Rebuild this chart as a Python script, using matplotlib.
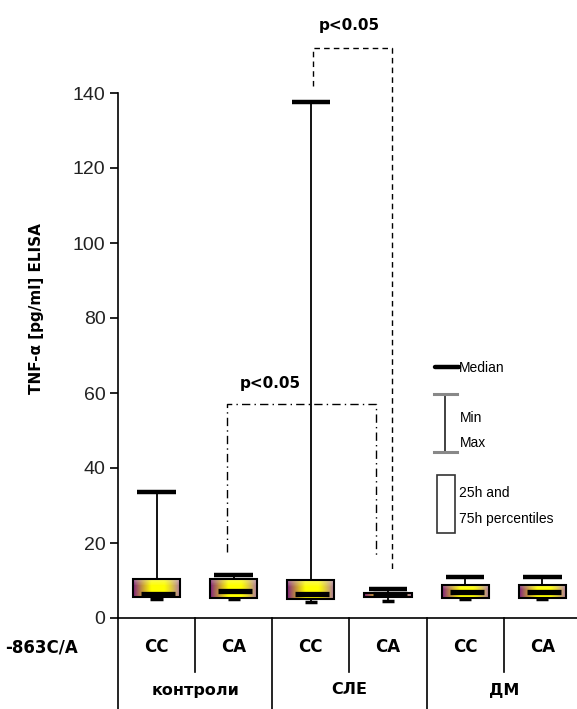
import numpy as np
import matplotlib

matplotlib.use("Agg")
import matplotlib.pyplot as plt
from matplotlib import font_manager
from matplotlib.lines import Line2D
from matplotlib.patches import Rectangle

# values (TNF-alpha, pg/ml)
genotypes = ["CC", "CA", "CC", "CA", "CC", "CA"]
groups = ["контроли", "СЛЕ", "ДМ"]
mins = [5.1, 5.0, 4.2, 4.6, 5.0, 5.0]
q1 = [5.6, 5.3, 5.1, 5.7, 5.3, 5.3]
medians = [6.5, 7.2, 6.4, 6.4, 6.9, 6.9]
q3 = [10.4, 10.4, 10.1, 6.8, 8.8, 8.8]
maxs = [33.5, 11.5, 137.5, 7.8, 10.9, 10.9]
yticks = [0, 20, 40, 60, 80, 100, 120, 140]

W, H = 577, 709
names = {f.name for f in font_manager.fontManager.ttflist}
NARROW = "Liberation Sans Narrow" if "Liberation Sans Narrow" in names else "Liberation Sans"

fig = plt.figure(figsize=(W / 100, H / 100), dpi=100)
ax = fig.add_axes([118 / W, (H - 618) / H, 1 - 118 / W, 618 / H])
ax.set_xlim(-0.5, 5.45)
ax.set_ylim(0, 618 / 3.75)

# purple -> yellow -> light purple horizontal gradient for the boxes
purple = np.array([0.50, 0.12, 0.50])
yellow = np.array([1.0, 1.0, 0.0])
lpurp = np.array([0.66, 0.45, 0.66])
t = np.linspace(0, 1, 60)
grad = np.zeros((12, 60, 3))
for j, tt in enumerate(t):
    if tt < 0.4:
        w = np.clip(tt / 0.38, 0, 1) ** 0.9
        c = purple * (1 - w) + yellow * w
    elif tt < 0.65:
        c = yellow
    else:
        w = np.clip((tt - 0.65) / 0.35, 0, 1) ** 1.2
        c = yellow * (1 - w) + lpurp * w
    for i in range(12):
        lift = 0.35 * max(0, 1 - i / 4)          # paler band along the top edge
        grad[i, j] = c * (1 - lift) + np.ones(3) * lift * 0.95 + c * 0.0

bw, cw = 0.61, 0.5
for i in range(len(genotypes)):
    ax.plot([i, i], [q3[i], maxs[i]], color="black", lw=1.3, zorder=2)
    ax.plot([i - cw / 2, i + cw / 2], [maxs[i]] * 2, color="black", lw=3.2,
            solid_capstyle="butt", zorder=3)
    ax.plot([i, i], [mins[i], q1[i]], color="black", lw=1.3, zorder=2)
    ax.plot([i - 0.08, i + 0.08], [mins[i]] * 2, color="black", lw=2.5,
            solid_capstyle="butt", zorder=3)
    rect = Rectangle((i - bw / 2, q1[i]), bw, q3[i] - q1[i], facecolor="none",
                     edgecolor="black", lw=1.5, zorder=5)
    img = ax.imshow(grad, extent=(i - bw / 2, i + bw / 2, q1[i], q3[i]),
                    aspect="auto", origin="upper", zorder=4)
    ax.add_patch(rect)
    img.set_clip_path(rect)
    ax.plot([i - 0.2, i + 0.24], [medians[i]] * 2, color="black", lw=3.8,
            solid_capstyle="butt", zorder=6)

# significance brackets
ax.plot([0.91, 0.91, 2.85, 2.85], [17.6, 57, 57, 16.8], color="black", lw=1,
        ls=(0, (6, 3, 1, 3)))
ax.text(1.48, 62.5, "p<0.05", ha="center", va="center", fontsize=11,
        fontweight="bold", family="DejaVu Sans")
ax.plot([2.03, 2.03, 3.05, 3.05], [142, 152, 152, 12.5], color="black", lw=1,
        ls=(0, (4, 3)))
ax.text(2.5, 158, "p<0.05", ha="center", va="center", fontsize=11,
        fontweight="bold", family="DejaVu Sans")

for s in ("top", "right"):
    ax.spines[s].set_visible(False)
ax.spines["left"].set_bounds(0, 140)
ax.spines["left"].set_linewidth(1.2)
ax.spines["bottom"].set_linewidth(1.2)
ax.set_yticks(yticks)
ax.set_yticklabels([str(v) for v in yticks], family="Liberation Sans", fontsize=14,
                   color="#222222")
ax.tick_params(axis="y", direction="out", length=6, width=1.2, pad=3)
ax.set_xticks([])
ax.set_ylabel("TNF-α [pg/ml] ELISA", fontsize=11, fontweight="bold",
              family="DejaVu Sans")
ax.yaxis.set_label_coords(-74 / 459, 0.50)

# table under the axis
xt = ax.get_xaxis_transform()
r1, r2 = -29 / 618, -72 / 618
for i, g in enumerate(genotypes):
    ax.text(i, r1, g, transform=xt, ha="center", va="center", fontsize=12,
            fontweight="bold", family="DejaVu Sans")
for k, g in enumerate(groups):
    ax.text(2 * k + 0.5, r2, g, transform=xt, ha="center", va="center",
            fontsize=11.5, fontweight="bold", family="DejaVu Sans")
ax.plot([-0.5, -0.5], [0, -91 / 618], transform=xt, color="black", lw=1.2, clip_on=False)
for x in (0.5, 2.5, 4.5):
    ax.plot([x, x], [0, -54 / 618], transform=xt, color="black", lw=1.2, clip_on=False)
for x in (1.5, 3.5):
    ax.plot([x, x], [0, -91 / 618], transform=xt, color="black", lw=1.2, clip_on=False)
fig.text(42 / W, 1 - 647 / H, "-863C/A", ha="center", va="center", fontsize=12,
         fontweight="bold", family="DejaVu Sans")


# legend key, drawn in figure pixels
def fx(x):
    return x / W


def fy(y):
    return 1 - y / H


tf = fig.transFigure
fig.add_artist(Line2D([fx(435), fx(459)], [fy(367)] * 2, color="black", lw=3.2,
                      solid_capstyle="round", transform=tf))
fig.add_artist(Line2D([fx(445)] * 2, [fy(394), fy(452)], color="#333333", lw=1.3, transform=tf))
for yy in (394, 452):
    fig.add_artist(Line2D([fx(434), fx(457)], [fy(yy)] * 2, color="#888888", lw=2.2,
                          transform=tf))
fig.add_artist(Rectangle((fx(437), fy(533)), fx(18), 58 / H, facecolor="white",
                         edgecolor="#333333", lw=1.2, transform=tf))
for txt, x, y in (("Median", 459, 368), ("Min", 460, 418), ("Max", 460, 443),
                  ("25h and", 459, 493), ("75h percentiles", 459, 519)):
    fig.text(fx(x), fy(y), txt, ha="left", va="center", fontsize=10, family=NARROW)

fig.savefig("out.png", dpi=100)
